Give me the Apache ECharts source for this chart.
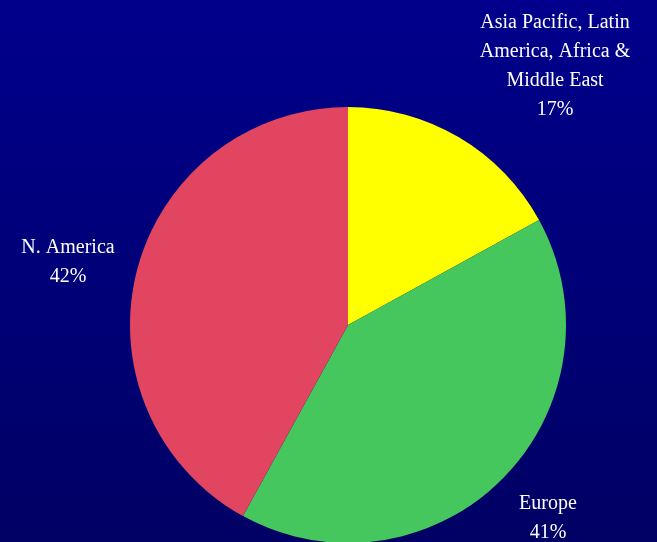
<!DOCTYPE html>
<html>
<head>
<meta charset="utf-8">
<script src="https://cdn.jsdelivr.net/npm/echarts@6/dist/echarts.min.js"></script>
<style>
  html, body { margin: 0; padding: 0; }
  #chart { width: 657px; height: 542px; }
</style>
</head>
<body>
<div id="chart"></div>
<script>
// Regional split, clockwise from 12 o'clock
const regions = ['Asia Pacific, Latin\nAmerica, Africa &\nMiddle East', 'Europe', 'N. America'];
const shares = [17, 41, 42];
const sliceColors = ['#FFFF00', '#45C75E', '#E2455F'];

// Label anchor points (centre of each text block)
const labelSpots = [
  { x: 555, y: 66 },
  { x: 548, y: 518 },
  { x: 68, y: 262 }
];

const chart = echarts.init(document.getElementById('chart'));
chart.setOption({
  backgroundColor: {
    type: 'linear', x: 0, y: 0, x2: 0, y2: 1,
    colorStops: [
      { offset: 0, color: '#00008C' },
      { offset: 1, color: '#000064' }
    ]
  },
  animation: false,
  series: [{
    type: 'pie',
    center: [348, 325],
    radius: 218,
    startAngle: 90,
    clockwise: true,
    avoidLabelOverlap: false,
    data: regions.map((name, i) => ({
      name: name,
      value: shares[i],
      itemStyle: { color: sliceColors[i] }
    })),
    label: {
      show: true,
      position: 'outside',
      formatter: (p) => p.name + '\n' + p.value + '%',
      color: '#FFFFFF',
      fontFamily: '"Liberation Serif", "Times New Roman", serif',
      fontSize: 20,
      lineHeight: 29,
      align: 'center'
    },
    labelLine: { show: false },
    labelLayout: (params) => ({
      x: labelSpots[params.dataIndex].x,
      y: labelSpots[params.dataIndex].y,
      align: 'center',
      verticalAlign: 'middle'
    })
  }]
});
</script>
</body>
</html>
